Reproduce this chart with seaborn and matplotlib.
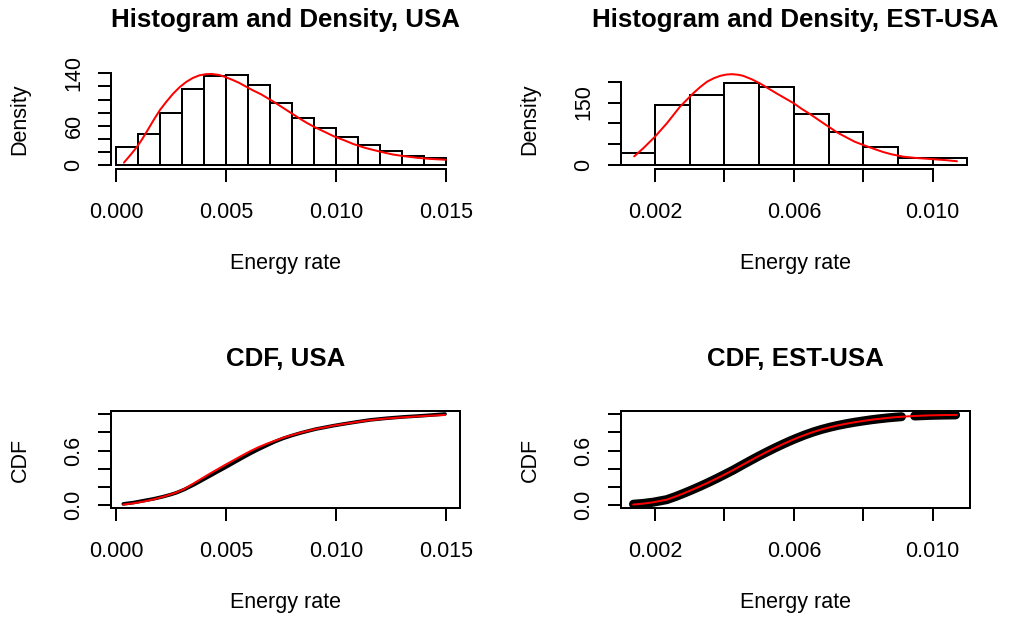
import matplotlib
matplotlib.use("Agg")
import matplotlib.pyplot as plt
import numpy as np
import pandas as pd
import seaborn as sns

# ---------------- data ----------------
# USA: histogram (density scale), bin edges every 0.001
usa_edges = [0.000, 0.001, 0.002, 0.003, 0.004, 0.005, 0.006, 0.007, 0.008,
             0.009, 0.010, 0.011, 0.012, 0.013, 0.014, 0.015]
usa_density = [27.5, 47.3, 78.9, 115.6, 136.4, 137.5, 122.7, 94.2, 71.3,
               56.0, 42.3, 30.0, 21.4, 14.3, 10.7]
# fitted density curve, USA
usa_fit_x = [0.00036, 0.00065, 0.00094, 0.0012, 0.0014, 0.0017, 0.0020,
             0.0023, 0.0026, 0.0029, 0.0032, 0.0035, 0.0038, 0.0041,
             0.00435, 0.0047, 0.0050, 0.0053, 0.0056, 0.0059, 0.0062,
             0.0066, 0.0069, 0.0072, 0.0075, 0.0078, 0.0081, 0.0084,
             0.0087, 0.0090, 0.0095, 0.0099, 0.0104, 0.0108, 0.0113,
             0.0117, 0.0122, 0.0126, 0.0131, 0.0137, 0.0143, 0.0150]
usa_fit_y = [3.6, 15.0, 27.0, 40.0, 51.0, 68.0, 84.0,
             97.0, 109.0, 119.0, 127.0, 133.0, 137.0, 138.8,
             139.0, 137.5, 134.0, 130.0, 125.5, 120.0, 114.5,
             108.0, 102.0, 96.0, 89.5, 83.0, 76.5, 70.0,
             64.0, 58.5, 50.5, 44.0, 37.5, 32.0, 26.5,
             23.0, 19.0, 16.0, 13.5, 11.0, 9.3, 8.0]

# EST-USA: histogram (density scale)
est_edges = [0.001, 0.002, 0.003, 0.004, 0.005, 0.006, 0.007, 0.008, 0.009,
             0.010, 0.011]
est_density = [29.6, 143.2, 168.8, 197.6, 186.4, 122.4, 80.0, 42.4, 16.8, 17.6]
# fitted density curve, EST-USA
est_fit_x = [0.0014, 0.00166, 0.0020, 0.00234, 0.00272, 0.0031, 0.0033,
             0.0035, 0.0037, 0.00388, 0.00405, 0.00422, 0.0044, 0.00454,
             0.00478, 0.00502, 0.00526, 0.0055, 0.00575, 0.0060, 0.00622,
             0.00647, 0.00675, 0.0070, 0.00725, 0.00752, 0.00775, 0.0080,
             0.0083, 0.00858, 0.0088, 0.00915, 0.0095, 0.0100, 0.0104,
             0.0107]
est_fit_y = [20.8, 40.0, 68.0, 100.0, 140.0, 172.0, 187.0,
             200.0, 208.5, 214.0, 217.0, 218.0, 216.5, 214.0,
             206.0, 196.0, 184.0, 172.0, 160.0, 148.0, 135.0,
             122.0, 106.0, 92.0, 78.0, 66.0, 56.0, 48.0,
             39.0, 31.0, 26.0, 20.0, 17.0, 14.0, 11.5,
             9.0]

# CDFs, USA: empirical (black) and fitted (red)
usa_cdf_x = [0.00033, 0.0008, 0.00124, 0.0017, 0.00215, 0.0025, 0.00276,
             0.0031, 0.00352, 0.0039, 0.00428, 0.0046, 0.00496, 0.0054,
             0.00572, 0.0061, 0.00648, 0.0069, 0.00723, 0.0076, 0.00799,
             0.0084, 0.00875, 0.0091, 0.00951, 0.0099, 0.01034, 0.0110,
             0.01156, 0.0123, 0.01307, 0.0140, 0.01497]
usa_ecdf = [0.015, 0.030, 0.050, 0.070, 0.095, 0.118, 0.138,
            0.172, 0.222, 0.272, 0.322, 0.365, 0.412, 0.472,
            0.515, 0.565, 0.612, 0.660, 0.697, 0.732, 0.763,
            0.792, 0.814, 0.835, 0.854, 0.872, 0.890, 0.915,
            0.935, 0.953, 0.968, 0.982, 1.000]
usa_fcdf = [0.008, 0.022, 0.040, 0.064, 0.094, 0.120, 0.142,
            0.178, 0.238, 0.293, 0.348, 0.392, 0.442, 0.500,
            0.543, 0.592, 0.636, 0.678, 0.707, 0.740, 0.768,
            0.795, 0.816, 0.836, 0.854, 0.873, 0.890, 0.914,
            0.933, 0.950, 0.964, 0.978, 0.989]

# CDFs, EST-USA: empirical points (two runs separated by a gap) and fit
est_ecdf_x = [0.00138, 0.00165, 0.00195, 0.00234, 0.00258, 0.00282, 0.00306,
              0.0033, 0.00354, 0.00378, 0.00402, 0.00426, 0.0045, 0.00474,
              0.00498, 0.00522, 0.00546, 0.0057, 0.0059, 0.00608, 0.00632,
              0.00656, 0.0068, 0.00704, 0.00728, 0.00752, 0.00776, 0.0080,
              0.00824, 0.00848, 0.00872, 0.00896, 0.0091,
              0.00948, 0.00992, 0.0103, 0.01066]
est_ecdf_y = [0.012, 0.020, 0.034, 0.062, 0.094, 0.130, 0.168,
              0.208, 0.250, 0.294, 0.340, 0.387, 0.438, 0.488,
              0.537, 0.584, 0.629, 0.672, 0.706, 0.735, 0.771,
              0.803, 0.831, 0.855, 0.876, 0.894, 0.910, 0.924,
              0.937, 0.948, 0.958, 0.966, 0.970,
              0.978, 0.985, 0.988, 0.990]
est_ecdf_run = [0] * 33 + [1] * 4
est_fcdf_x = [0.00137, 0.00165, 0.00195, 0.00234, 0.00258, 0.00282, 0.00306,
              0.0033, 0.00354, 0.00378, 0.00402, 0.00426, 0.0045, 0.00474,
              0.00498, 0.00522, 0.00546, 0.0057, 0.0059, 0.00608, 0.00632,
              0.00656, 0.0068, 0.00704, 0.00728, 0.00752, 0.00776, 0.0080,
              0.00824, 0.00848, 0.00872, 0.00896, 0.0094, 0.00992, 0.0103,
              0.01069]
est_fcdf_y = [0.008, 0.018, 0.033, 0.062, 0.094, 0.130, 0.168,
              0.208, 0.250, 0.294, 0.340, 0.387, 0.438, 0.488,
              0.537, 0.584, 0.629, 0.672, 0.706, 0.735, 0.771,
              0.803, 0.831, 0.855, 0.876, 0.894, 0.910, 0.924,
              0.937, 0.948, 0.958, 0.966, 0.977, 0.985, 0.988,
              0.990]

# ---------------- style ----------------
sns.set_theme(style="white")
plt.rcParams["font.family"] = ["Liberation Sans", "DejaVu Sans"]

W, H = 1010, 619
DPI = 100
fig = plt.figure(figsize=(W / DPI, H / DPI), dpi=DPI)
fig.patch.set_facecolor("white")

FS = 15.5       # axis text size
TFS = 18.6      # title size
LW = 1.44       # base line width


def px_axes(left, top, right, bottom):
    return fig.add_axes([left / W, 1 - bottom / H, (right - left) / W,
                         (bottom - top) / H])


def style(ax, xticks, xlabs, yticks, ylabs, box):
    ax.set_facecolor("white")
    ax.set_xticks(xticks)
    ax.set_xticklabels(xlabs)
    ax.set_yticks(yticks)
    ax.set_yticklabels(ylabs, rotation=90, va="center")
    ax.tick_params(axis="both", direction="out", length=9.4, width=LW,
                   color="black", labelsize=FS, labelcolor="black",
                   bottom=True, left=True)
    ax.tick_params(axis="x", pad=14.0)
    ax.tick_params(axis="y", pad=9.7)
    for s in ax.spines.values():
        s.set_linewidth(LW)
        s.set_color("black")
    if not box:
        ax.spines["top"].set_visible(False)
        ax.spines["right"].set_visible(False)
        ax.spines["left"].set_bounds(yticks[0], yticks[-1])
        ax.spines["bottom"].set_bounds(xticks[0], xticks[-1])
    ax.grid(False)


def labels(ax, title, title_base, ylab, ylab_x, xlab_base):
    l, b, w, h = ax.get_position().bounds
    cx = l + w / 2
    fig.text(cx, 1 - title_base / H, title, ha="center", va="baseline",
             fontsize=TFS, fontweight="bold", color="black")
    ax.set_xlabel("Energy rate", fontsize=FS, color="black")
    ax.xaxis.label.set_verticalalignment("baseline")
    ax.xaxis.set_label_coords(cx, 1 - xlab_base / H, transform=fig.transFigure)
    ax.set_ylabel(ylab, fontsize=FS, color="black")
    ax.yaxis.label.set_verticalalignment("center")
    ax.yaxis.label.set_horizontalalignment("center")
    ax.yaxis.set_label_coords(ylab_x / W, b + h / 2, transform=fig.transFigure)


def hist_panel(ax, edges, dens):
    mids = [(a + b) / 2 for a, b in zip(edges[:-1], edges[1:])]
    sns.histplot(x=mids, weights=dens, bins=edges, stat="count", ax=ax,
                 color="white", edgecolor="black", linewidth=LW, alpha=1.0)


def curve(ax, x, y, color, lw):
    sns.lineplot(x=x, y=y, ax=ax, color=color, linewidth=lw, sort=False,
                 estimator=None, solid_joinstyle="round",
                 solid_capstyle="round")


# ---------------- top left: histogram + density, USA ----------------
ax1 = px_axes(111, 70, 460, 169)
hist_panel(ax1, usa_edges, usa_density)
curve(ax1, usa_fit_x, usa_fit_y, "red", LW)
ax1.set_xlim(-0.000227, 0.01565)
ax1.set_ylim(-6.11, 145.1)
style(ax1, [0.000, 0.005, 0.010, 0.015], ["0.000", "0.005", "0.010", "0.015"],
      [0, 20, 40, 60, 80, 100, 120, 140],
      ["0", "", "", "60", "", "", "", "140"], box=False)
labels(ax1, "Histogram and Density, USA", 26.7, "Density", 20, 269.3)

# ---------------- top right: histogram + density, EST-USA ----------------
ax2 = px_axes(621, 70, 970, 169)
hist_panel(ax2, est_edges, est_density)
curve(ax2, est_fit_x, est_fit_y, "red", LW)
ax2.set_xlim(0.00102, 0.011075)
ax2.set_ylim(-9.6, 228.0)
style(ax2, [0.002, 0.004, 0.006, 0.008, 0.010],
      ["0.002", "", "0.006", "", "0.010"],
      [0, 50, 100, 150, 200], ["0", "", "", "150", ""], box=False)
labels(ax2, "Histogram and Density, EST-USA", 26.7, "Density", 530, 269.3)

# ---------------- bottom left: CDF, USA ----------------
ax3 = px_axes(111, 410.7, 460, 508.3)
curve(ax3, usa_cdf_x, usa_ecdf, "black", 2.6)
curve(ax3, usa_cdf_x, usa_fcdf, "red", LW)
ax3.set_xlim(-0.000227, 0.01565)
ax3.set_ylim(-0.033, 1.036)
style(ax3, [0.000, 0.005, 0.010, 0.015], ["0.000", "0.005", "0.010", "0.015"],
      [0.0, 0.2, 0.4, 0.6, 0.8, 1.0], ["0.0", "", "", "0.6", "", ""], box=True)
labels(ax3, "CDF, USA", 365.7, "CDF", 20, 608.3)

# ---------------- bottom right: CDF, EST-USA ----------------
ax4 = px_axes(621, 410.7, 970, 508.3)
ecdf_df = pd.DataFrame({"x": est_ecdf_x, "y": est_ecdf_y, "run": est_ecdf_run})
sns.lineplot(data=ecdf_df, x="x", y="y", units="run", estimator=None,
             sort=False, ax=ax4, color="black", linewidth=6.5,
             solid_capstyle="round", solid_joinstyle="round")
curve(ax4, est_fcdf_x, est_fcdf_y, "red", LW)
ax4.set_xlim(0.00102, 0.011075)
ax4.set_ylim(-0.033, 1.036)
style(ax4, [0.002, 0.004, 0.006, 0.008, 0.010],
      ["0.002", "", "0.006", "", "0.010"],
      [0.0, 0.2, 0.4, 0.6, 0.8, 1.0], ["0.0", "", "", "0.6", "", ""], box=True)
labels(ax4, "CDF, EST-USA", 365.7, "CDF", 530, 608.3)

fig.savefig("out.png", dpi=DPI, facecolor="white")
